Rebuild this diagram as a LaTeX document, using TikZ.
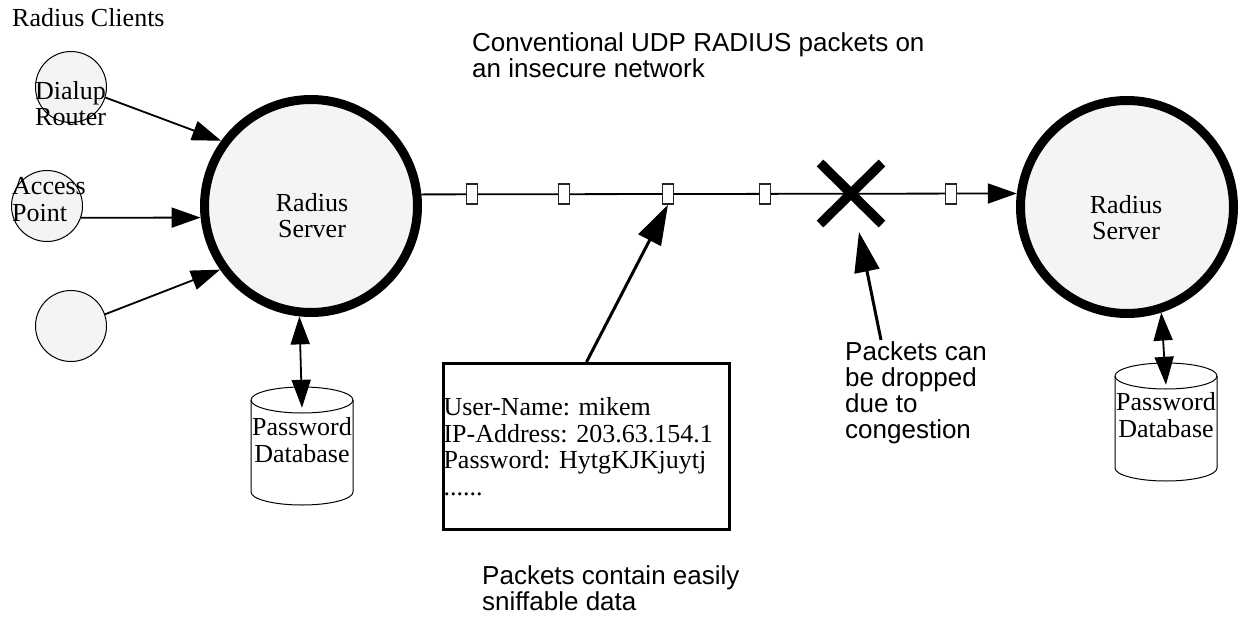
\documentclass[tikz,border=0pt]{standalone}
\usepackage{fontspec}
\setmainfont{Liberation Serif}
\setsansfont{Liberation Sans}
\usetikzlibrary{arrows.meta}
\definecolor{nodefill}{RGB}{244,244,244}
\frenchspacing
\begin{document}
\begin{tikzpicture}[x=1pt,y=-1pt,
  server/.style={circle, draw, line width=9pt, fill=nodefill, minimum size=213pt, inner sep=0pt},
  client/.style={circle, draw, line width=1pt, fill=nodefill, minimum size=71pt, inner sep=0pt},
  serif/.style={font=\fontsize{26}{26.5}\selectfont, inner sep=0pt},
  sans/.style={font=\sffamily\fontsize{26}{26}\selectfont, inner sep=0pt, align=left},
  pkt/.style={draw=black!85, line width=1.4pt, fill=white, minimum width=11.5pt, minimum height=20pt, inner sep=0pt},
  conn/.style={line width=1.8pt, -{Triangle[length=29pt,width=20pt]}},
  dconn/.style={line width=1.8pt, {Triangle[length=28pt,width=19pt]}-{Triangle[length=28pt,width=19pt]}},
  callout/.style={line width=3pt, -{Triangle[length=40pt,width=25pt]}},
  dbbox/.style={minimum width=102pt, minimum height=118pt, inner sep=0pt},
  cylline/.style={line width=1pt},
  cross/.style={line width=9.5pt}]
\useasboundingbox (0,0) rectangle (1240,616);

% client side
\node[serif, anchor=base west] (clients) at (12,26) {Radius Clients};
\node[client] (dialup) at (71,87) {};
\node[client] (access) at (47,206) {};
\node[client] (other) at (71,326) {};
\node[serif, anchor=west, align=left] (dialuplbl) at (35,103.5) {Dialup\\Router};
\node[serif, anchor=west, align=left] (accesslbl) at (12,199.5) {Access\\Point};

% servers
\node[server] (srvL) at (311,206) {};
\node[serif, align=center] (srvLlbl) at (312,215.5) {Radius\\Server};
\node[server] (srvR) at (1127,207) {};
\node[serif, align=center] (srvRlbl) at (1126,217.5) {Radius\\Server};

% client connectors
\draw[conn] (dialup.-17) -- (srvL.144.3);
\draw[conn] (access.-19.5) -- (srvL.186.2);
\draw[conn] (other.19.9) -- (srvL.215.7);

% databases
\node[dbbox, label={[serif,align=center,yshift=6pt]center:{Password\\Database}}] (dbL) at (302,446) {};
\draw[cylline] (302,400) ellipse [x radius=51pt, y radius=13pt];
\draw[cylline] (251,400) -- (251,492) arc[start angle=180, end angle=360, x radius=51pt, y radius=13pt] -- (353,400);
\node[dbbox, label={[serif,align=center,yshift=7pt]center:{Password\\Database}}] (dbR) at (1166,422) {};
\draw[cylline] (1166,376) ellipse [x radius=51pt, y radius=13pt];
\draw[cylline] (1115,376) -- (1115,468) arc[start angle=180, end angle=360, x radius=51pt, y radius=13pt] -- (1217,376);

\draw[dconn] (srvL.264.3) -- ([yshift=-21pt]dbL.north);
\draw[dconn] (srvR.288.9) -- ([yshift=-22pt]dbR.north);

% network line
\draw[conn] (srvL.6.2) -- (srvR.173.3);
\node[pkt] (p1) at (472,194) {};
\node[pkt] (p2) at (564,194) {};
\node[pkt] (p3) at (668,194) {};
\node[pkt] (p4) at (765,194) {};
\node[pkt] (p5) at (951,194) {};
\draw[cross] (820,163) -- (882,224) (820,224) -- (882,163);
\coordinate (droptip) at (859,232);

% texts
\node[sans, anchor=west] (toptxt) at (472,55.5) {Conventional UDP RADIUS packets on\\an insecure network};
\node[sans, anchor=west] (droptxt) at (845,393) {Packets can\\be dropped\\due to\\congestion};
\coordinate (dropbase) at (881,340);
\draw[callout] (dropbase) -- (droptip);

\node[draw, line width=3pt, minimum width=286pt, minimum height=166pt, text width=286pt,
      inner xsep=0pt, inner ysep=0pt, serif, align=left] (msg) at (586.5,446.5)
  {User-Name: mikem\\IP-Address: 203.63.154.1\\Password: HytgKJKjuytj\\......};
\draw[callout] (msg.north) -- (p3.south);

\node[sans, anchor=west] (bottxt) at (482,588.5) {Packets contain easily\\sniffable data};
\end{tikzpicture}
\end{document}
